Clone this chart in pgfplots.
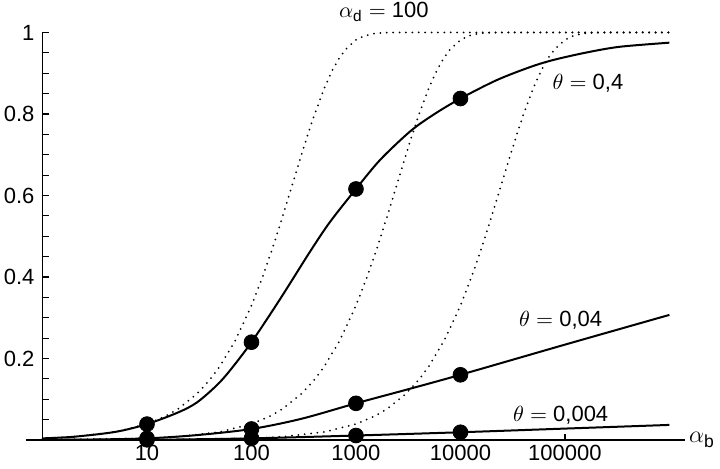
\documentclass[border=0pt]{standalone}
\usepackage{amsmath}
\usepackage{fontspec}
\setmainfont{Liberation Sans}
\usepackage{pgfplots}
\pgfplotsset{compat=1.18}
\begin{document}
\begin{tikzpicture}[font=\fontsize{11}{13.2}\selectfont]
\begin{axis}[
  xmode=log, scale only axis, width=329.5pt, height=203.75pt,
  xmin=0.695, xmax=1.41e6, ymin=0, ymax=1,
  axis lines=middle, axis line style={-, line width=0.9pt},
  clip=false,
  xtick={10,100,1000,10000,100000},
  xticklabels={10,100,1000,10000,100000},
  xminorticks=false,
  ytick={0.2,0.4,0.6,0.8,1},
  yticklabels={0.2,0.4,0.6,0.8,1},
  minor ytick={0.05,0.1,0.15,0.25,0.3,0.35,0.45,0.5,0.55,0.65,0.7,0.75,0.85,0.9,0.95},
  tick align=inside,
  major tick length=3pt, minor tick length=3pt,
  tick style={line width=0.6pt, black},
  xticklabel style={yshift=-1.5pt, inner sep=1pt},
  yticklabel style={xshift=-0.5pt},
]
\coordinate (sw) at (rel axis cs:0,0);
\coordinate (ne) at (rel axis cs:1,1);
% dotted curves
\addplot[black, line width=1pt, line cap=round, dash pattern=on 0pt off 3.2pt] coordinates {
(1,0.00399) (2,0.00797) (5,0.0198) (10,0.0392) (15,0.0582) (20,0.0769) (30,0.1131) (40,0.1479) (50,0.1813) (70,0.2442) (100,0.3297) (130,0.4055) (160,0.4727) (200,0.5507) (250,0.6321) (300,0.6988) (350,0.7534) (400,0.7981) (500,0.8647) (600,0.9093) (700,0.9392) (800,0.9592) (1000,0.9817) (1200,0.9918) (1500,0.9975) (2000,0.9997) (2500,1) (1e6,1)};
\addplot[black, line width=1pt, line cap=round, dash pattern=on 0pt off 3.2pt] coordinates {
(1,0.0004) (10,0.00399) (20,0.00797) (50,0.0198) (100,0.0392) (150,0.0582) (200,0.0769) (300,0.1131) (400,0.1479) (500,0.1813) (700,0.2442) (1000,0.3297) (1300,0.4055) (1600,0.4727) (2000,0.5507) (2500,0.6321) (3000,0.6988) (3500,0.7534) (4000,0.7981) (5000,0.8647) (6000,0.9093) (7000,0.9392) (8000,0.9592) (10000,0.9817) (12000,0.9918) (15000,0.9975) (20000,0.9997) (25000,1) (1e6,1)};
\addplot[black, line width=1pt, line cap=round, dash pattern=on 0pt off 3.2pt] coordinates {
(1,0.00004) (10,0.0004) (100,0.00399) (200,0.00797) (500,0.0198) (1000,0.0392) (1500,0.0582) (2000,0.0769) (3000,0.1131) (4000,0.1479) (5000,0.1813) (7000,0.2442) (10000,0.3297) (13000,0.4055) (16000,0.4727) (20000,0.5507) (25000,0.6321) (30000,0.6988) (35000,0.7534) (40000,0.7981) (50000,0.8647) (60000,0.9093) (70000,0.9392) (80000,0.9592) (100000,0.9817) (120000,0.9918) (150000,0.9975) (200000,0.9997) (250000,1) (1e6,1)};
% solid curves
\addplot[black, line width=1pt, smooth] coordinates {
(1,0.004) (2,0.008) (5,0.02) (10,0.039) (20,0.068) (30,0.092) (46,0.133) (62,0.17) (100,0.24) (187,0.345) (363,0.462) (564,0.535) (1000,0.616) (1698,0.687) (3289,0.757) (5495,0.798) (10000,0.838) (22180,0.883) (46240,0.915) (77270,0.9325) (161400,0.951) (336000,0.965) (1e6,0.975)};
\addplot[black, line width=1pt, smooth] coordinates {
(1,0.0004) (3,0.0012) (10,0.004) (30,0.012) (100,0.027) (300,0.052) (1000,0.09) (3000,0.123) (10000,0.16) (100000,0.234) (1e6,0.307)};
\addplot[black, line width=1pt, smooth] coordinates {
(1,0.00004) (10,0.0005) (100,0.004) (1000,0.011) (10000,0.019) (100000,0.028) (1e6,0.037)};
% marks
\addplot[only marks, mark=*, mark size=3.7pt, black] coordinates {
(10,0.039) (100,0.24) (1000,0.616) (10000,0.838)
(10,0.004) (100,0.027) (1000,0.09) (10000,0.16)
(10,0.0005) (100,0.004) (1000,0.011) (10000,0.019)};
% labels
\node at (axis cs:1.66e5,0.876) {$\theta = \text{0,4}$};
\node at (axis cs:9.1e4,0.2945) {$\theta = \text{0,04}$};
\node at (axis cs:9.1e4,0.0613) {$\theta = \text{0,004}$};
\node at (axis cs:1850,1.05) {$\alpha_{\text{d}} = \text{100}$};
\node[anchor=west, inner sep=0.5pt, font=\fontsize{12.5}{14}\selectfont] at (axis cs:1.5e6,0) {$\alpha_{\text{b}}$};
\end{axis}
\pgfresetboundingbox
\path[use as bounding box] ([xshift=-13pt,yshift=-14.5pt]sw) rectangle ([xshift=17.5pt,yshift=16.25pt]ne);
\end{tikzpicture}
\end{document}
